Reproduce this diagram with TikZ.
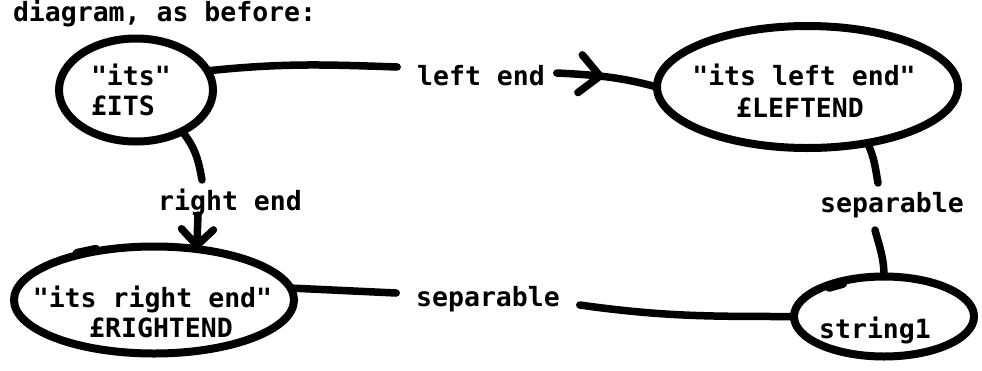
\documentclass[tikz,border=0pt]{standalone}
\usepackage{fontspec}
\setmonofont{DejaVu Sans Mono}
\usetikzlibrary{shapes.geometric,arrows.meta,decorations.markings}

\begin{document}
\begin{tikzpicture}[x=1pt,y=-1pt,
  blob/.style={draw, ellipse, line width=8pt, inner sep=0pt, outer sep=0pt},
  txt/.style={font=\fontsize{26.5}{30}\selectfont\ttfamily\bfseries, inner sep=0pt, outer sep=0pt},
  link/.style={line width=7.5pt, line cap=round, line join=round},
  knob/.style={line width=8pt, line cap=round},
  barbtip/.tip={Straight Barb[length=20pt,width=38pt,line cap=round,line join=round]},
  smallbarb/.tip={Straight Barb[length=16pt,width=32pt,line cap=round,line join=round]},
  midbarb/.style={postaction={decorate},
    decoration={markings, mark=at position 47pt with {\arrow{barbtip}}}}
]
\useasboundingbox (0,0) rectangle (982,370);

% heading
\node[txt, anchor=base west] (title) at (13,21) {diagram, as before:};

% the four outlined blobs
\node[blob, minimum width=154pt, minimum height=103pt] (its)      at (136,90) {};
\node[blob, minimum width=301pt, minimum height=122pt] (leftend)  at (807.5,87) {};
\node[blob, minimum width=280pt, minimum height=107pt] (rightend) at (154,300) {};
\node[blob, minimum width=180pt, minimum height=80pt]  (string1)  at (884,316.5) {};

% pen overlaps where the outlines were closed
\draw[knob] ([yshift=2.5pt]rightend.150) -- ([yshift=2.5pt]rightend.140);
\draw[knob] ([yshift=-3pt]string1.150) -- ([yshift=-3pt]string1.139);

% texts inside the blobs
\node[txt, anchor=base west] (itsA) at (91,85)  {"its"};
\node[txt, anchor=base west] (itsB) at (91,115) {£ITS};
\node[txt, anchor=base] (leftA) at (804,85)  {"its left end"};
\node[txt, anchor=base] (leftB) at (800,117) {£LEFTEND};
\node[txt, anchor=base] (rightA) at (152.5,307) {"its right end"};
\node[txt, anchor=base] (rightB) at (161,337)   {£RIGHTEND};
\node[txt, anchor=base] (strA) at (875,338) {string1};

% connector labels
\node[txt, anchor=base] (lbll)  at (481,85)  {left end};
\node[txt, anchor=base] (lblr)  at (230,210) {right end};
\node[txt, anchor=base] (lbls1) at (892,212) {separable};
\node[txt, anchor=base] (lbls2) at (488,306) {separable};

% its --left end--> its left end
\draw[link] (its.15) to[out=6,in=178] ([xshift=-20pt,yshift=18pt]lbll.base west);
\draw[link, midbarb] ([xshift=12pt,yshift=12pt]lbll.base east) to[out=-3,in=165] (leftend.west);

% its --right end--> its right end
\draw[link] (its.-42) to[out=-50,in=100] ([xshift=-28pt,yshift=30pt]lblr.base);
\draw[link, -smallbarb] ([xshift=-32pt,yshift=-5pt]lblr.base) -- (rightend.50);

% its right end --separable-- string1
\draw[link] (rightend.5) -- ([xshift=-20pt,yshift=13pt]lbls2.base west);
\draw[link] ([xshift=20pt,yshift=1pt]lbls2.base east) to[out=-8,in=180] (string1.west);

% its left end --separable-- string1
\draw[link] (leftend.-43) to[out=-65,in=100] ([xshift=-14pt,yshift=29pt]lbls1.base);
\draw[link] ([xshift=-17pt,yshift=-18pt]lbls1.base) to[out=-75,in=90] (string1.north);
\end{tikzpicture}
\end{document}
